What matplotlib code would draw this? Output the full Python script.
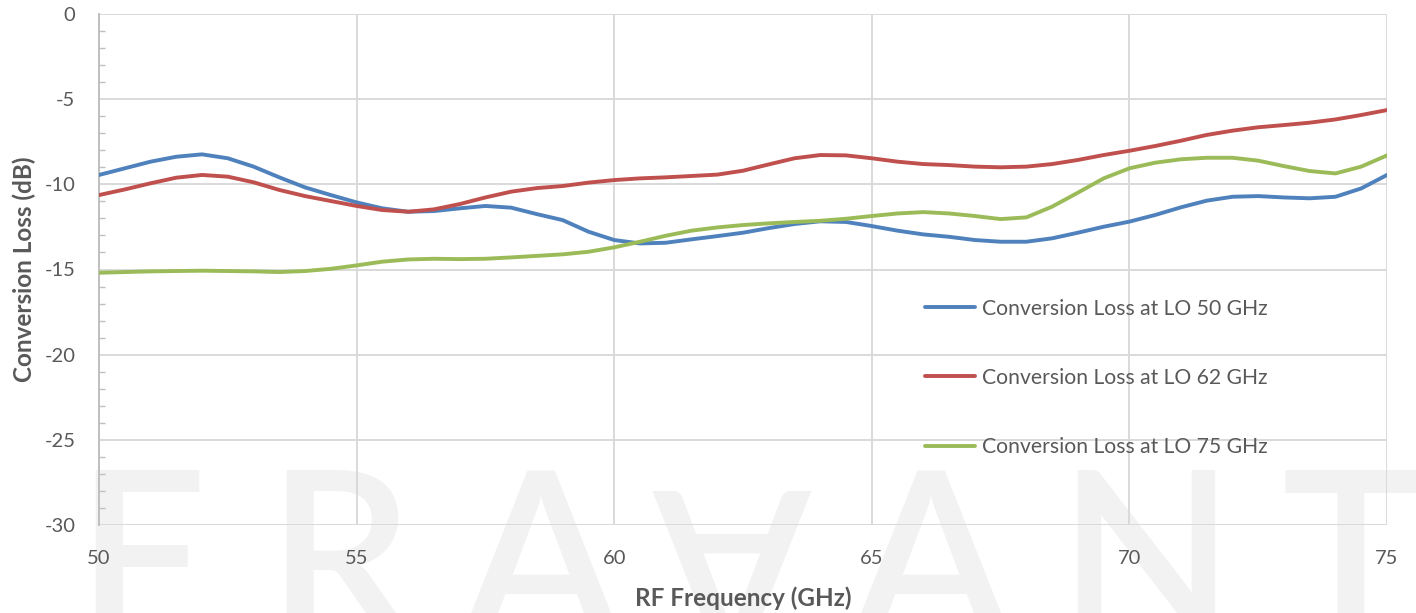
import numpy as np
import matplotlib
matplotlib.use("Agg")
import matplotlib.pyplot as plt
from matplotlib.ticker import MultipleLocator

plt.rcParams['font.family'] = ['Lato', 'DejaVu Sans']
plt.rcParams['axes.unicode_minus'] = False

# RF frequency in GHz (0.5 GHz steps)
freq = np.arange(50, 75.5, 0.5)

loss_lo50 = [-9.45, -9.06, -8.67, -8.38, -8.24, -8.47, -8.96, -9.59, -10.18, -10.63,
             -11.06, -11.41, -11.61, -11.57, -11.41, -11.27, -11.37, -11.75, -12.1, -12.78,
             -13.27, -13.47, -13.43, -13.23, -13.04, -12.84, -12.57, -12.33, -12.17, -12.21,
             -12.45, -12.72, -12.94, -13.08, -13.27, -13.37, -13.37, -13.17, -12.84, -12.49,
             -12.19, -11.8, -11.35, -10.96, -10.73, -10.69, -10.77, -10.82, -10.73, -10.24,
             -9.45]
loss_lo62 = [-10.63, -10.3, -9.94, -9.61, -9.45, -9.55, -9.88, -10.33, -10.69, -10.98,
             -11.27, -11.51, -11.61, -11.47, -11.16, -10.77, -10.43, -10.22, -10.1, -9.9,
             -9.75, -9.65, -9.59, -9.51, -9.43, -9.2, -8.83, -8.47, -8.28, -8.3,
             -8.47, -8.67, -8.81, -8.87, -8.96, -9.0, -8.96, -8.81, -8.57, -8.28,
             -8.03, -7.75, -7.44, -7.1, -6.85, -6.65, -6.52, -6.38, -6.19, -5.93,
             -5.64]
loss_lo75 = [-15.19, -15.15, -15.11, -15.09, -15.07, -15.09, -15.11, -15.15, -15.09, -14.96,
             -14.76, -14.54, -14.41, -14.37, -14.39, -14.37, -14.29, -14.2, -14.11, -13.96,
             -13.7, -13.37, -13.02, -12.72, -12.53, -12.39, -12.29, -12.21, -12.14, -12.02,
             -11.86, -11.71, -11.63, -11.71, -11.86, -12.04, -11.94, -11.31, -10.49, -9.65,
             -9.06, -8.73, -8.53, -8.44, -8.44, -8.61, -8.93, -9.22, -9.36, -8.96,
             -8.3]

labels = ["Conversion Loss at LO 50 GHz", "Conversion Loss at LO 62 GHz",
          "Conversion Loss at LO 75 GHz"]
colors = ["#4f81bd", "#c0504d", "#9bbb59"]

W, H = 1416, 613
fig = plt.figure(figsize=(W / 100, H / 100), dpi=100)

# faint logo watermark behind the chart
wm_color = "#f2f2f2"
wm_size = 166
base_y = (H - 637) / H
for ch, xc in [("F", 140), ("R", 340), ("A", 540), ("A", 930), ("N", 1146), ("T", 1350)]:
    fig.text(xc / W, base_y, ch, fontsize=wm_size, color=wm_color, ha="center",
             va="baseline", zorder=-5, family="Lato", fontweight="semibold")
fig.text(733 / W, (H - 555) / H, "A", fontsize=wm_size, color=wm_color, ha="center",
         va="center", rotation=180, zorder=-5, family="Lato", fontweight="semibold")

ax = fig.add_axes([99 / W, (H - 525) / H, (1387 - 99) / W, (525 - 14) / H])
ax.set_facecolor("none")

for y, c, lab in zip([loss_lo50, loss_lo62, loss_lo75], colors, labels):
    ax.plot(freq, y, color=c, lw=2.8, label=lab, solid_capstyle="round", zorder=3)

ax.set_xlim(50, 75)
ax.set_ylim(-30, 0)
ax.xaxis.set_major_locator(MultipleLocator(5))
ax.yaxis.set_major_locator(MultipleLocator(5))
ax.yaxis.set_minor_locator(MultipleLocator(1))
ax.grid(True, which="major", color="#d9d9d9", lw=1.4, zorder=0)

for s in ["top", "right", "bottom"]:
    ax.spines[s].set_visible(False)
ax.spines["left"].set_color("#bfbfbf")
ax.spines["left"].set_linewidth(1.4)

ax.tick_params(axis="x", length=0, pad=18, labelsize=14.5, labelcolor="#595959")
ax.tick_params(axis="y", which="major", length=0, pad=17, labelsize=14.5, labelcolor="#595959")
ax.tick_params(axis="y", which="minor", direction="in", length=4, width=1, color="#bfbfbf")

ax.set_xlabel("RF Frequency (GHz)", fontsize=17.5, fontweight="bold", color="#595959", labelpad=14)
ax.set_ylabel("Conversion Loss (dB)", fontsize=17.5, fontweight="bold", color="#595959", labelpad=6)

ax.legend(loc="upper left", bbox_to_anchor=(0.6413, 0.443), frameon=False, fontsize=15.2,
          borderpad=0, borderaxespad=0, handlelength=2.37, handletextpad=0.33,
          labelspacing=2.33, labelcolor="#595959")

fig.savefig("out.png", dpi=100)
